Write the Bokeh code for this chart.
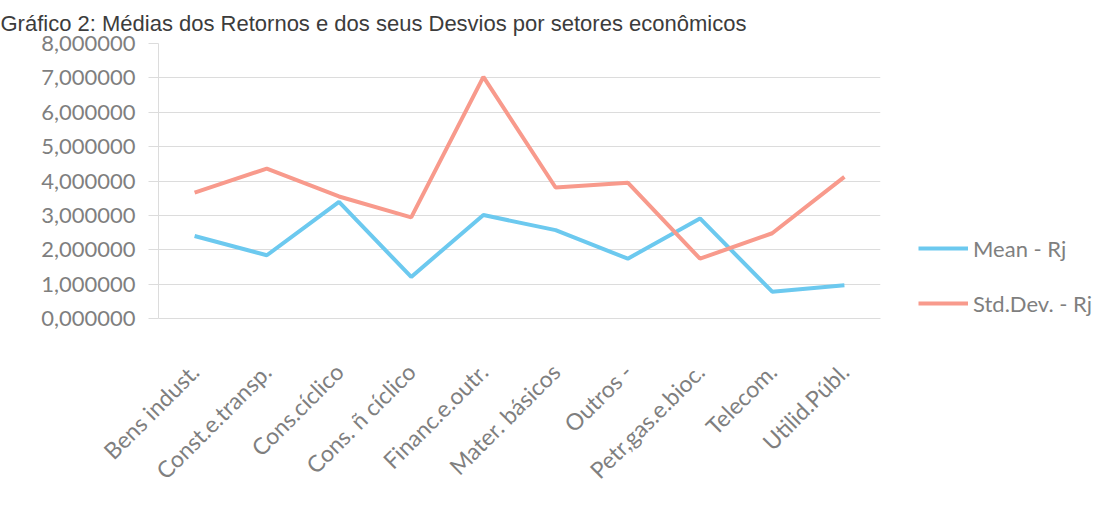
import math
from bokeh.plotting import figure
from bokeh.models import Range1d, FactorRange, FixedTicker, Legend, LegendItem
from bokeh.embed import file_html
from bokeh.resources import INLINE

# ---- data ----
sectors = ["Bens indust.", "Const.e.transp.", "Cons.cíclico", "Cons. ñ cíclico",
           "Financ.e.outr.", "Mater. básicos", "Outros -", "Petr,gas.e.bioc.",
           "Telecom.", "Utilid.Públ."]
mean_rj = [2.40, 1.84, 3.39, 1.21, 3.01, 2.57, 1.74, 2.91, 0.78, 0.97]
std_rj = [3.66, 4.36, 3.55, 2.94, 7.03, 3.81, 3.95, 1.74, 2.48, 4.12]
y_ticks = [0, 1, 2, 3, 4, 5, 6, 7, 8]
y_tick_labels = ["0,000000", "1,000000", "2,000000", "3,000000", "4,000000",
                 "5,000000", "6,000000", "7,000000", "8,000000"]
series_names = ["Mean - Rj", "Std.Dev. - Rj"]
title_text = "Gráfico 2: Médias dos Retornos e dos seus Desvios por setores econômicos"

BLUE = "#6cc9ef"
RED = "#f89a8c"
GRID = "#dcdcdc"
TXT = "#7f7f7f"
FONT = "Lato"

p = figure(frame_width=722, frame_height=275,
           x_range=FactorRange(*sectors, range_padding=0),
           y_range=Range1d(0, 8), output_backend="svg", toolbar_location=None,
           min_border_left=158, min_border_right=224, min_border_top=43,
           min_border_bottom=210)
p.outline_line_color = None
p.background_fill_color = "white"
p.border_fill_color = "white"

p.title.text = title_text
p.title.text_font = "Liberation Sans"
p.title.text_font_size = "22px"
p.title.text_font_style = "normal"
p.title.text_color = "#3c3c3c"
p.title.align = "left"
p.title.offset = -158
p.title.standoff = 15

r_mean = p.line(sectors, mean_rj, line_color=BLUE, line_width=4)
r_std = p.line(sectors, std_rj, line_color=RED, line_width=4)

# y axis
ya = p.yaxis[0]
ya.ticker = FixedTicker(ticks=y_ticks)
ya.major_label_overrides = {float(t): lab for t, lab in zip(y_ticks, y_tick_labels)}
ya.major_label_text_font = FONT
ya.major_label_text_font_size = "22px"
ya.major_label_text_color = TXT
ya.axis_line_color = GRID
ya.major_tick_line_color = GRID
ya.major_tick_in = 0
ya.major_tick_out = 10
ya.minor_tick_line_color = None
ya.major_label_standoff = 13

# x axis
xa = p.xaxis[0]
xa.major_label_orientation = math.pi / 4
xa.major_label_text_font = FONT
xa.major_label_text_font_size = "23px"
xa.major_label_text_color = TXT
xa.axis_line_color = GRID
xa.major_tick_line_color = None
xa.minor_tick_line_color = None
xa.major_label_standoff = 43

p.xgrid.grid_line_color = None
p.ygrid.grid_line_color = GRID
p.ygrid.grid_line_width = 1

legend = Legend(items=[LegendItem(label=series_names[0], renderers=[r_mean]),
                       LegendItem(label=series_names[1], renderers=[r_std])],
                location=(38, 0), orientation="vertical",
                border_line_color=None, background_fill_alpha=0,
                padding=0, margin=0, spacing=25,
                glyph_width=50, glyph_height=30, label_height=30,
                label_standoff=5, label_text_font=FONT,
                label_text_font_size="22px", label_text_color=TXT)
p.add_layout(legend, "right")

open("out.html", "w").write(file_html(p, INLINE))
